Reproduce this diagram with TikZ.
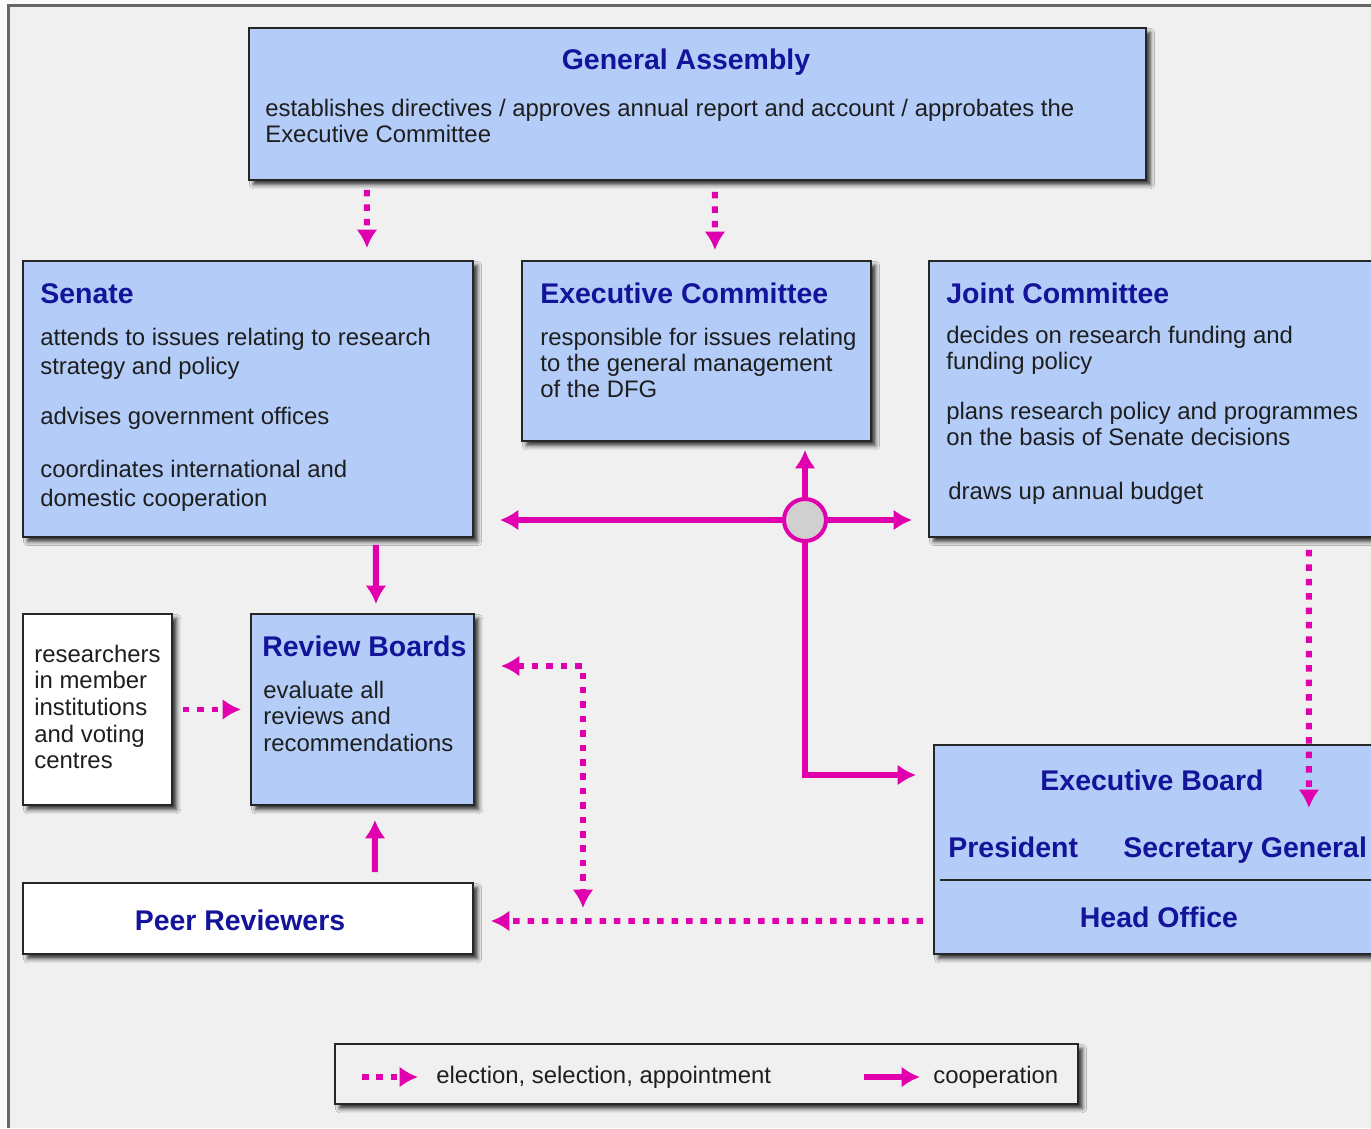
\documentclass[tikz,border=0pt]{standalone}
\usepackage{fontspec}
\setmainfont{Liberation Sans}
\usetikzlibrary{arrows.meta,shadows.blur}
\definecolor{bg}{HTML}{F0F0F0}
\definecolor{boxblue}{HTML}{B3CCF8}
\definecolor{titleblue}{HTML}{14149A}
\definecolor{mag}{HTML}{E000AE}
\definecolor{hubgray}{HTML}{D0D0D0}
\definecolor{txt}{HTML}{1E1E1E}
\definecolor{frame}{HTML}{666666}
\begin{document}
\begin{tikzpicture}[x=0.02cm,y=-0.02cm,
 >={Latex[length=10.5pt,width=12pt]},
 box/.style={draw=black!85, line width=1.4pt, fill=boxblue, anchor=north west, inner sep=0pt, outer sep=0pt,
   blur shadow={shadow xshift=2.6pt, shadow yshift=-2.6pt, shadow blur radius=2.4pt, shadow opacity=80}},
 wbox/.style={box, fill=white},
 body/.style={anchor=base west, inner sep=0pt, text=txt, font=\fontsize{13.6}{16}\selectfont},
 ttl/.style={anchor=base west, inner sep=0pt, text=titleblue, font=\fontsize{16.2}{19}\selectfont\bfseries},
 ctitle/.style={ttl, anchor=base},
 elect/.style={draw=mag, line width=3.4pt, dash pattern=on 3.7pt off 4.5pt, ->},
 coop/.style={draw=mag, line width=3.4pt, ->},
]
\useasboundingbox (0,0) rectangle (1371,1128);
\clip (0,0) rectangle (1371,1128);
\fill[white!60!bg] (0,0) rectangle (1371,1128);
\fill[bg] (8.5,5.5) rectangle (1371,1128);
\draw[frame, line width=1.2pt] (8.5,1128) -- (8.5,5.5) -- (1371,5.5);

% boxes
\node[box, minimum width=17.94cm, minimum height=3.04cm] (ga) at (249,28) {};
\node[box, minimum width=9cm, minimum height=5.52cm] (senate) at (23,261) {};
\node[box, minimum width=6.98cm, minimum height=3.6cm] (ec) at (522,261) {};
\node[box, minimum width=9.2cm, minimum height=5.52cm] (jc) at (929,261) {};
\node[box, minimum width=4.46cm, minimum height=3.82cm] (rb) at (251,614) {};
\node[wbox, minimum width=2.98cm, minimum height=3.82cm] (res) at (23,614) {};
\node[wbox, minimum width=9cm, minimum height=1.42cm] (peer) at (23,883) {};
\node[box, minimum width=9.2cm, minimum height=4.18cm] (eb) at (934,745) {};
\node[box, fill=bg, minimum width=14.86cm, minimum height=1.2cm] (legend) at (335,1044) {};
\draw[black!85, line width=1.4pt] ([xshift=0.12cm, yshift=-2.7cm]eb.north west) -- ([yshift=-2.7cm]eb.north east);

% texts
\node[ctitle] (gat) at (686,70) {General Assembly};
\node[body] (ga1) at (265,117) {establishes directives / approves annual report and account / approbates the};
\node[body] (ga2) at (265,143) {Executive Committee};

\node[ttl] (sent) at (40,303) {Senate};
\node[body] (se1) at (40,345) {attends to issues relating to research};
\node[body] (se2) at (40,374) {strategy and policy};
\node[body] (se3) at (40,424) {advises government offices};
\node[body] (se4) at (40,477) {coordinates international and};
\node[body] (se5) at (40,506) {domestic cooperation};

\node[ttl] (ect) at (540,303) {Executive Committee};
\node[body] (ec1) at (540,345) {responsible for issues relating};
\node[body] (ec2) at (540,371) {to the general management};
\node[body] (ec3) at (540,397) {of the DFG};

\node[ttl] (jct) at (946,303) {Joint Committee};
\node[body] (jc1) at (946,343) {decides on research funding and};
\node[body] (jc2) at (946,369) {funding policy};
\node[body] (jc3) at (946,419) {plans research policy and programmes};
\node[body] (jc4) at (946,445) {on the basis of Senate decisions};
\node[body] (jc5) at (948,499) {draws up annual budget};

\node[ttl] (rbt) at (262,656) {Review Boards};
\node[body] (rb1) at (263,698) {evaluate all};
\node[body] (rb2) at (263,724) {reviews and};
\node[body] (rb3) at (263,751) {recommendations};

\node[body] (rs1) at (34,662) {researchers};
\node[body] (rs2) at (34,688) {in member};
\node[body] (rs3) at (34,715) {institutions};
\node[body] (rs4) at (34,742) {and voting};
\node[body] (rs5) at (34,768) {centres};

\node[ctitle] (peert) at (240,930) {Peer Reviewers};

\node[ctitle] (ebt) at (1152,790) {Executive Board};
\node[ttl] (pres) at (948,857) {President};
\node[ttl] (secg) at (1123,857) {Secretary General};
\node[ctitle] (ho) at (1159,927) {Head Office};

\node[body] (lg1) at (436,1083) {election, selection, appointment};
\node[body] (lg2) at (933,1083) {cooperation};

% hub
\node[circle, draw=mag, line width=2.3pt, fill=hubgray, minimum size=0.84cm, inner sep=0pt] (hub) at (805,520) {};

% election connectors
\draw[elect, shorten <=0.2cm, shorten >=0.26cm] ([xshift=2.36cm]ga.south west) -- ([xshift=6.88cm]senate.north west);
\draw[elect, shorten <=0.24cm, shorten >=0.22cm] ([xshift=9.32cm]ga.south west) -- ([xshift=3.86cm]ec.north west);
\draw[elect, shorten <=0.22cm, shorten >=0.2cm] (res.east) -- (rb.west);
\draw[elect, shorten <=0.26cm] ([xshift=7.6cm]jc.south west) -- ([xshift=7.5cm,yshift=-1.26cm]eb.north west);
\draw[elect, shorten <=0.22cm, shorten >=0.36cm] ([yshift=-3.52cm]eb.north west) -- ([yshift=-0.76cm]peer.north east);
\coordinate (elb) at (583,908);
\draw[elect, <->, shorten <=0.54cm] ([yshift=-1.04cm]rb.north east) -| (elb);

% cooperation connectors
\draw[coop, shorten <=0.16cm, shorten >=0.2cm] ([xshift=7.06cm]senate.south west) -- ([xshift=2.5cm]rb.north west);
\draw[coop, shorten <=0.22cm, shorten >=0.3cm] ([xshift=7.04cm]peer.north west) -- ([xshift=2.48cm]rb.south west);
\draw[coop, shorten >=0.54cm] (hub.west) -- (hub -| senate.east);
\draw[coop, shorten >=0.34cm] (hub.east) -- (hub -| jc.west);
\draw[coop, shorten >=0.18cm] (hub.north) -- (hub |- ec.south);
\draw[coop, shorten >=0.36cm] (hub.south) |- ([yshift=-0.6cm]eb.north west);

% legend arrows
\draw[elect] ([xshift=-1.48cm, yshift=0.12cm]lg1.base west) -- ([xshift=-0.36cm, yshift=0.12cm]lg1.base west);
\draw[coop] ([xshift=-1.38cm, yshift=0.12cm]lg2.base west) -- ([xshift=-0.26cm, yshift=0.12cm]lg2.base west);
\end{tikzpicture}
\end{document}
